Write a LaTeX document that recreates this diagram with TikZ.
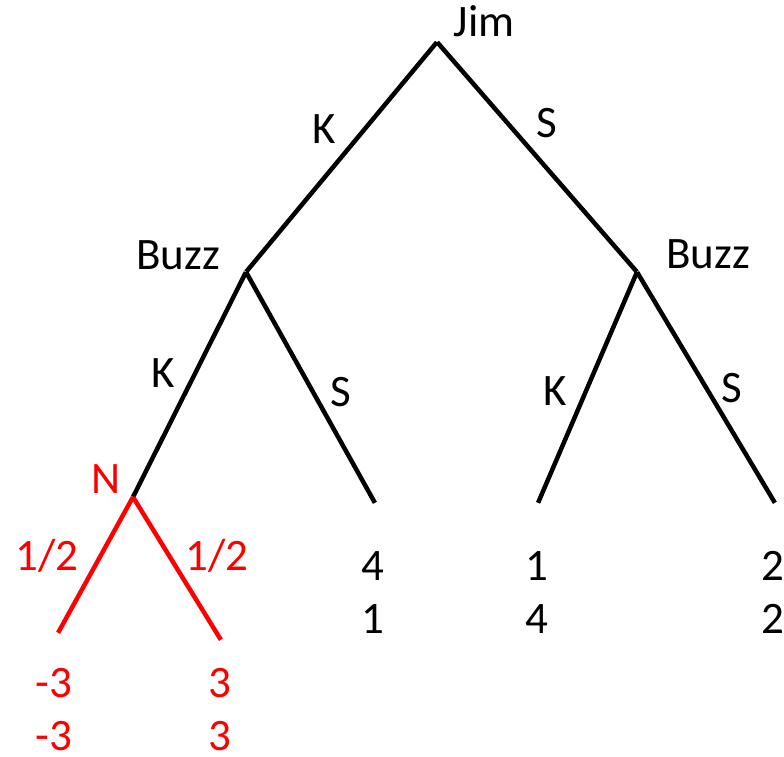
\documentclass[tikz,border=0pt]{standalone}
\usepackage{fontspec}
\setmainfont{Carlito}
\usetikzlibrary{positioning,calc}
\tikzset{
  pt/.style={inner sep=0pt, minimum size=0pt},
  lbl/.style={inner sep=0pt, anchor=base, font=\fontsize{45}{50}\selectfont},
  rlbl/.style={lbl, text=red},
  branch/.style={line width=4.5pt, draw=black},
  chance/.style={line width=4.5pt, draw=red},
}

\begin{document}
\begin{tikzpicture}[x=1pt,y=-1pt]
        \useasboundingbox (0,0) rectangle (784,756);
        % tree points
        \node[pt] (jim) at (437,42) {};
        \node[pt] (bl) at (246,272) {};
        \node[pt] (br) at (637,272) {};
        \node[pt] (nat) at (133,497) {};
        \node[pt] (ks) at (375,503) {};
        \node[pt] (sk) at (538,503) {};
        \node[pt] (ss) at (775,503) {};
        \node[pt] (na) at (58,633) {};
        \node[pt] (nb) at (221,640) {};
        % players
        \node[lbl] (tjim) at (484,36) {Jim};
        \node[lbl] (tbl) at (178,269) {Buzz};
        \node[lbl] (tbr) at (708,268) {Buzz};
        \node[rlbl] (tn) at (106,493) {N};
        % actions
        \node[lbl] (a1) at (324,143) {K};
        \node[lbl] (a2) at (547,137) {S};
        \node[lbl] (a3) at (163,387) {K};
        \node[lbl] (a4) at (341,406) {S};
        \node[lbl] (a5) at (555,405) {K};
        \node[lbl] (a6) at (732,402) {S};
        \node[rlbl] (p1) at (47,570) {1/2};
        \node[rlbl] (p2) at (217,570) {1/2};
        % payoffs
        \node[lbl] (u1) at (373,580) {4};
        \node[lbl] (v1) at (373,633) {1};
        \node[lbl] (u2) at (537,580) {1};
        \node[lbl] (v2) at (537,633) {4};
        \node[lbl] (u3) at (773,580) {2};
        \node[lbl] (v3) at (773,633) {2};
        \node[rlbl] (u4) at (54,697) {-3};
        \node[rlbl] (v4) at (54,750) {-3};
        \node[rlbl] (u5) at (220,697) {3};
        \node[rlbl] (v5) at (220,750) {3};
        % branches
        \draw[branch] (bl) -- (jim) -- (br);
        \draw[branch] (nat) -- (bl) -- (ks);
        \draw[branch] (sk) -- (br) -- (ss);
        \draw[chance] (na) -- (nat) -- (nb);
      \end{tikzpicture}
\end{document}
